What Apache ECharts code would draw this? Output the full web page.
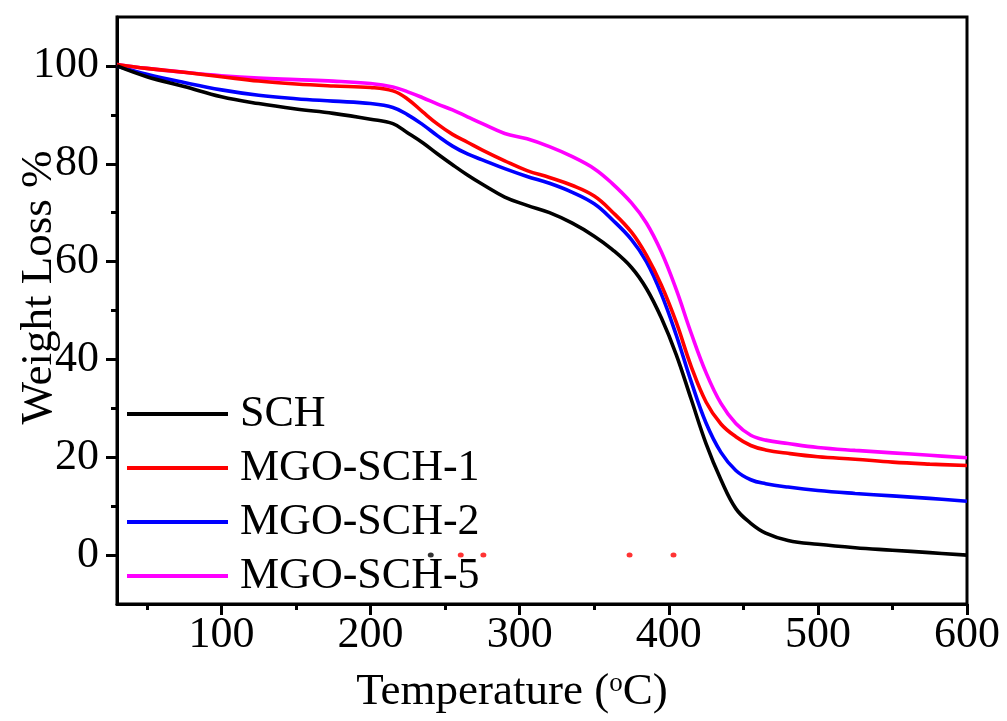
<!DOCTYPE html>
<html>
<head>
<meta charset="utf-8">
<title>TGA curves</title>
<script src="https://cdn.jsdelivr.net/npm/echarts@6/dist/echarts.min.js"></script>
<style>
  html, body { margin: 0; padding: 0; background: #fff; }
  #chart { width: 1007px; height: 721px; }
</style>
</head>
<body>
<div id="chart"></div>
<script>
// Temperature grid (°C) shared by all samples
const temps = [30, 50, 75, 100, 125, 150, 175, 200, 215, 225, 235, 245, 255, 265, 275, 290, 305, 320, 335, 350,
               362, 375, 385, 395, 405, 415, 425, 435, 445, 455, 465, 480, 500, 525, 550, 575, 600];

// Remaining weight (%) for each sample
const sch = [100, 97.8, 95.8, 93.7, 92.3, 91.2, 90.3, 89.1, 88.2, 86.3, 84.3, 82.0, 79.8, 77.7, 75.8, 73.2, 71.5, 70.0, 67.9, 65.2,
             62.5, 58.8, 54.5, 48.5, 41.0, 31.9, 22.8, 15.4, 9.5, 6.5, 4.5, 3.0, 2.2, 1.5, 1.0, 0.5, 0.0];
const mgoSch1 = [100.3, 99.5, 98.7, 97.8, 96.9, 96.3, 95.9, 95.6, 94.9, 93.2, 90.6, 88.1, 86.0, 84.4, 82.8, 80.6, 78.6, 77.2, 75.6, 73.4,
                 70.2, 66.0, 61.3, 55.2, 47.6, 38.6, 31.3, 26.8, 24.2, 22.4, 21.5, 20.8, 20.1, 19.6, 19.0, 18.6, 18.3];
const mgoSch2 = [100, 98.3, 96.6, 95.1, 94.0, 93.3, 92.8, 92.3, 91.5, 90.0, 88.0, 85.7, 83.6, 82.0, 80.8, 79.0, 77.4, 76.0, 74.2, 71.8,
                 68.6, 64.5, 60.0, 53.4, 45.0, 35.5, 27.0, 21.0, 17.3, 15.4, 14.6, 13.9, 13.2, 12.6, 12.1, 11.6, 11.0];
const mgoSch5 = [100.3, 99.5, 98.7, 98.0, 97.5, 97.2, 96.9, 96.4, 95.7, 94.7, 93.5, 92.2, 91.0, 89.6, 88.2, 86.2, 85.1, 83.5, 81.5, 79.0,
                 76.0, 72.0, 67.9, 62.0, 54.3, 45.4, 37.3, 31.0, 26.9, 24.5, 23.5, 22.8, 22.0, 21.4, 20.9, 20.4, 19.9];

// Small dots lying on the 0 % line
const blackDotTemps = [240.4];
const redDotTemps = [260.5, 275.7, 373.7, 403.2];

// Tick positions
const xMajorTicks = [100, 200, 300, 400, 500, 600];
const xMinorTicks = [50, 150, 250, 350, 450, 550];
const yMajorTicks = [0, 20, 40, 60, 80, 100];
const yMinorTicks = [10, 30, 50, 70, 90];

const seriesNames = ['SCH', 'MGO-SCH-1', 'MGO-SCH-2', 'MGO-SCH-5'];
const seriesValues = [sch, mgoSch1, mgoSch2, mgoSch5];
const seriesColors = ['#000000', '#ff0000', '#0000ff', '#ff00ff'];

const FONT = "'Liberation Serif', 'Times New Roman', serif";
const pairs = (xs, ys) => xs.map((x, i) => [x, ys[i]]);

const chart = echarts.init(document.getElementById('chart'), null, { renderer: 'canvas' });

const lineSeries = seriesNames.map((name, i) => ({
  name: name,
  type: 'line',
  xAxisIndex: 0,
  yAxisIndex: 0,
  data: pairs(temps, seriesValues[i]),
  smooth: 0.4,
  showSymbol: false,
  symbol: 'none',
  lineStyle: { color: seriesColors[i], width: 3.6 },
  itemStyle: { color: seriesColors[i] },
  z: 3 + (3 - i)
}));

const dotSeries = [
  { type: 'scatter', data: blackDotTemps.map(t => [t, 0]), symbolSize: [6, 5], itemStyle: { color: '#000' }, silent: true, z: 10 },
  { type: 'scatter', data: redDotTemps.map(t => [t, 0]), symbolSize: [6, 5], itemStyle: { color: '#ff0000' }, silent: true, z: 10 }
];

const majorTick = (vals) => ({ show: true, inside: false, length: 11, customValues: vals, lineStyle: { color: '#000', width: 3 } });
const minorTick = (vals) => ({ show: true, inside: false, length: 6, customValues: vals, lineStyle: { color: '#000', width: 3 } });

chart.setOption({
  backgroundColor: '#fff',
  animation: false,
  grid: {
    left: 117, right: 40, top: 17, bottom: 117,
    containLabel: false,
    outerBoundsMode: 'none',
    show: true, borderColor: '#000', borderWidth: 3, backgroundColor: 'transparent'
  },
  legend: {
    data: seriesNames,
    orient: 'vertical',
    left: 122,
    top: 387,
    icon: 'rect',
    itemWidth: 101,
    itemHeight: 4,
    itemGap: 10,
    textStyle: { fontFamily: FONT, fontSize: 44, color: '#000', padding: [0, 0, 0, 7] }
  },
  xAxis: [
    {
      type: 'value', min: 30, max: 600,
      name: 'Temperature ({sup|o}C)',
      nameLocation: 'middle',
      nameGap: 66,
      nameTextStyle: {
        fontFamily: FONT, fontSize: 45, color: '#000', padding: [0, 60, 0, 0],
        rich: { sup: { fontFamily: FONT, fontSize: 27, color: '#000', verticalAlign: 'top', padding: [0, 0, 16, 0] } }
      },
      axisLine: { show: true, onZero: false, lineStyle: { color: '#000', width: 3 } },
      axisTick: majorTick(xMajorTicks),
      axisLabel: { customValues: xMajorTicks, fontFamily: FONT, fontSize: 44, color: '#000', margin: 9 },
      splitLine: { show: false }
    },
    {
      type: 'value', min: 30, max: 600, position: 'bottom', gridIndex: 0,
      axisLine: { show: false, onZero: false },
      axisTick: minorTick(xMinorTicks),
      axisLabel: { show: false },
      splitLine: { show: false }
    }
  ],
  yAxis: [
    {
      type: 'value', min: -10, max: 110,
      name: 'Weight Loss %',
      nameLocation: 'middle',
      nameMoveOverlap: false,
      nameGap: 55,
      nameTextStyle: { fontFamily: FONT, fontSize: 45, color: '#000', padding: [0, 0, 0, 46] },
      axisLine: { show: true, onZero: false, lineStyle: { color: '#000', width: 3 } },
      axisTick: majorTick(yMajorTicks),
      axisLabel: { customValues: yMajorTicks, fontFamily: FONT, fontSize: 44, color: '#000', margin: 18 },
      splitLine: { show: false }
    },
    {
      type: 'value', min: -10, max: 110, position: 'left', gridIndex: 0,
      axisLine: { show: false, onZero: false },
      axisTick: minorTick(yMinorTicks),
      axisLabel: { show: false },
      splitLine: { show: false }
    }
  ],
  series: lineSeries.concat(dotSeries)
});
</script>
</body>
</html>
